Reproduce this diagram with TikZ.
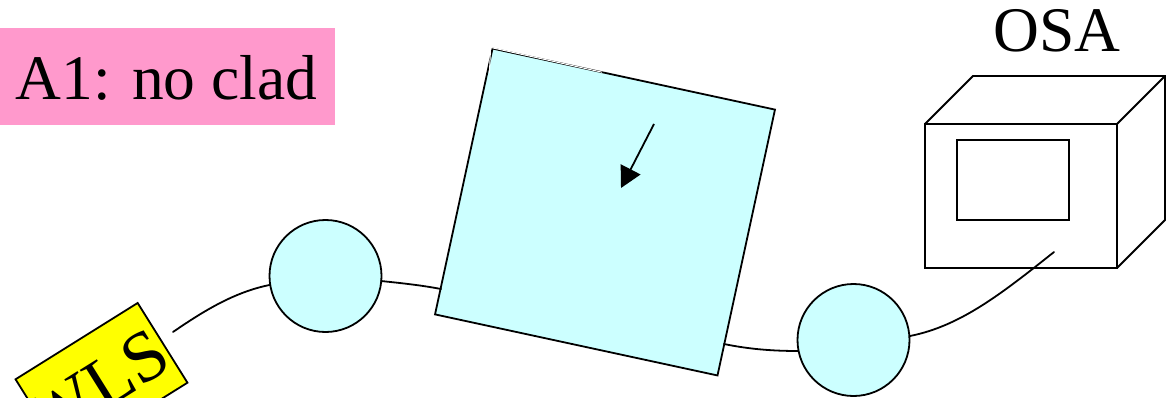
\documentclass[tikz,border=0pt]{standalone}
\usepackage{fontspec}
\setmainfont{Liberation Serif}
\usetikzlibrary{arrows.meta}
\definecolor{paleCyan}{HTML}{CCFFFF}
\definecolor{labelPink}{HTML}{FF99CC}
\definecolor{boxYellow}{HTML}{FFFF00}
\tikzset{
  ink/.style={draw=black,line width=1.8pt},
  port/.style={circle,ink,fill=paleCyan,minimum size=112pt,inner sep=0pt,outer sep=0pt},
  fibre/.style={ink,line cap=round},
  bigtext/.style={font=\fontsize{63.5}{64}\selectfont,text=black,inner sep=0pt}
}
\begin{document}
\begin{tikzpicture}[x=1pt,y=-1pt]
\useasboundingbox (0,0) rectangle (1169,398);
\clip (0,0) rectangle (1169,398);
% label
\node[fill=labelPink,minimum width=335pt,minimum height=97pt,inner sep=0pt,outer sep=0pt,anchor=north west] (lab) at (0,28) {};
\node[bigtext,anchor=base] (labt) at (166.5,100) {A1: no clad};
% WLS box
\node[ink,fill=boxYellow,rotate=32,minimum width=144pt,minimum height=94pt,inner sep=0pt,outer sep=0pt] (wls) at (101.5,381) {};
\node[bigtext,font=\fontsize{72}{72}\selectfont,rotate=32,anchor=base] (wlst) at (110,407) {WLS};
% sample
\node[ink,fill=paleCyan,rotate=-12.2,minimum width=289pt,minimum height=272pt,inner sep=0pt,outer sep=0pt] (sq) at (605,212) {};
\draw[white,line width=1pt] (489.6,47.2) -- (490.4,47.4) -- (602,72.2);
\draw[white,line width=1pt] (490.6,47.4) -- (489.4,73);
\coordinate (asrc) at (654,124);
\coordinate (atip) at (621,188);
\draw[ink,-{Triangle[length=21pt,width=22pt]}] (asrc) -- (atip);
% ports
\node[port] (c1) at (325.5,276) {};
\node[port] (c2) at (853.5,340) {};
% OSA
\node[ink,minimum width=192pt,minimum height=144pt,inner sep=0pt,outer sep=0pt] (front) at (1021,196) {};
\node[ink,minimum width=112pt,minimum height=80pt,inner sep=0pt,outer sep=0pt] (screen) at (1013,180) {};
\coordinate (tl) at (973,76);
\coordinate (tr) at (1165,76);
\coordinate (br) at (1165,220);
\draw[ink,line join=miter] (front.north west) -- (tl) -- (tr) -- (br) -- (front.south east);
\draw[ink] (front.north east) -- (tr);
\node[bigtext,anchor=base] (osat) at (1057,52) {OSA};
% fibres
\coordinate (f1) at (173,332);
\coordinate (f2) at (1054,252);
\coordinate (s1) at (441,289);
\coordinate (s2) at (724,344);
\draw[fibre] (f1) .. controls (205,310) and (235,292) .. (c1.west |- 0,285);
\draw[fibre] (381,281) .. controls (400,283) and (420,285) .. (s1);
\draw[fibre] (s2) .. controls (748,349) and (772,351) .. (798,351);
\draw[fibre] (910,336) .. controls (960,326) and (1000,295) .. (f2);
\end{tikzpicture}
\end{document}
